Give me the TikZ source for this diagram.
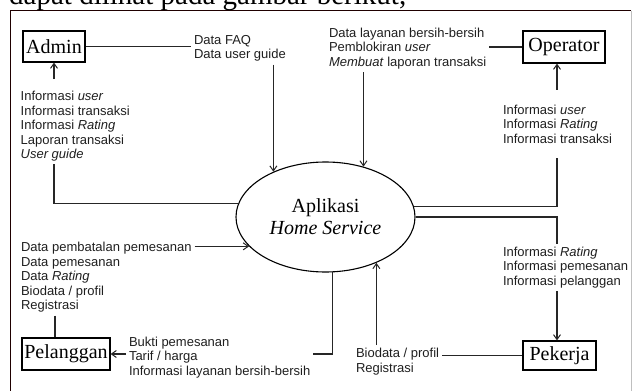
\documentclass[tikz,border=0pt]{standalone}
\usepackage{fontspec}
\setmainfont{Liberation Serif}
\newfontfamily\labfont{Liberation Sans}
\usetikzlibrary{shapes.geometric,arrows.meta,calc}
\begin{document}
\begin{tikzpicture}[x=1pt,y=-1pt,
  lbl/.style={font=\labfont\fontsize{13}{14.5}\selectfont, align=left, inner sep=0pt, outer sep=3pt, anchor=west, text=black!88},
  ent/.style={draw, line width=1.1pt, font=\fontsize{20}{22}\selectfont, inner sep=1pt},
  con/.style={line width=1.1pt, draw=black!85},
  arr/.style={con, -{Straight Barb[length=5pt,width=7pt,line width=1pt]}},
]
\useasboundingbox (0,0) rectangle (633,391);
\clip (0,0) rectangle (633,391);
% frame
\draw[line width=1.6pt, draw=black!80!red!60!black] (10.5,395) -- (10.5,10.5) -- (631,10.5);
\draw[line width=0.8pt, draw=black!25] (631,10.5) -- (631,395);
% caption text cut by the frame
\node[anchor=base west, inner sep=0pt, font=\fontsize{29}{30}\selectfont] (cap) at (9,4) {dapat dilihat pada gambar berikut,};
% process
\node[draw, ellipse, line width=1.1pt, minimum width=179pt, minimum height=110pt, inner sep=0pt, align=center, font=\fontsize{20}{22}\selectfont] (app) at (325.5,217) {Aplikasi\\\textit{Home Service}};
% entities
\node[ent, minimum width=62pt, minimum height=31pt] (admin) at (54,46.5) {Admin};
\node[ent, minimum width=82pt, minimum height=32pt] (op) at (564,47) {Operator};
\node[ent, minimum width=88pt, minimum height=32pt] (pel) at (66,354) {Pelanggan};
\node[ent, minimum width=73pt, minimum height=29pt] (pek) at (559.5,355.5) {Pekerja};
% labels
\node[lbl] (faq) at (191,48.5) {Data FAQ\\Data user guide};
\node[lbl] (adminin) at (17.7,126.3) {Informasi \textit{user}\\Informasi transaksi\\Informasi \textit{Rating}\\Laporan transaksi\\\textit{User guide}};
\node[lbl] (opdata) at (326,48.5) {Data layanan bersih-bersih\\Pemblokiran \textit{user}\\\textit{Membuat} laporan transaksi};
\node[lbl] (opin) at (500,124) {Informasi \textit{user}\\Informasi \textit{Rating}\\Informasi transaksi};
\node[lbl] (pekin) at (500,267.5) {Informasi \textit{Rating}\\Informasi pemesanan\\Informasi pelanggan};
\node[lbl] (pelin) at (18,277.5) {Data pembatalan pemesanan\\Data pemesanan\\Data \textit{Rating}\\Biodata / profil\\Registrasi};
\node[lbl] (pelout) at (126,357.5) {Bukti pemesanan\\Tarif / harga\\Informasi layanan bersih-bersih};
\node[lbl] (pekout) at (353,361.5) {Biodata / profil\\Registrasi};
% helper coordinates
\coordinate (opS) at ([xshift=-7pt]op.south);
\coordinate (pekN) at ([xshift=-2.5pt]pek.north);
\coordinate (opinT) at ([yshift=12pt]opin.north);
\coordinate (opinB) at ([yshift=-12pt]opin.south);
\coordinate (admT) at ([yshift=9pt]adminin.north);
\coordinate (pelT) at ([xshift=-11pt]pel.north);
% Admin
\draw[con] (admin.east) -- (admin.east -| faq.west);
\draw[arr] (app.139.7 |- faq.south) -- (app.139.7);
\draw[arr] (admin.south |- admT) -- (admin.south);
\draw[con] (admin.south |- adminin.south) |- (app.171.5);
% Operator
\draw[con] (op.west) -- (op.west -| opdata.east);
\draw[arr] (app.53.1 |- opdata.south) -- (app.53.1);
\draw[arr] (opS |- opinT) -- (opS);
\draw[con] (opS |- opinB) |- (app.7.8);
% Pekerja
\draw[con] (app.0) -| (opS |- pekin.north);
\draw[arr] (opS |- pekin.south) -- (pekN);
\draw[arr] (app.318 |- pekout.north) -- (app.318);
\draw[con] (pekout.east |- pek.west) -- (pek.west);
% Pelanggan
\draw[arr] (app.201.8 -| pelin.east) -- (app.201.8);
\draw[con] (pelT |- pelin.south) -- (pelT);
\draw[arr] (pelout.west |- pel.east) -- (pel.east);
\draw[con] (app.277.8) |- (pelout.east |- pel.east);
\end{tikzpicture}
\end{document}
